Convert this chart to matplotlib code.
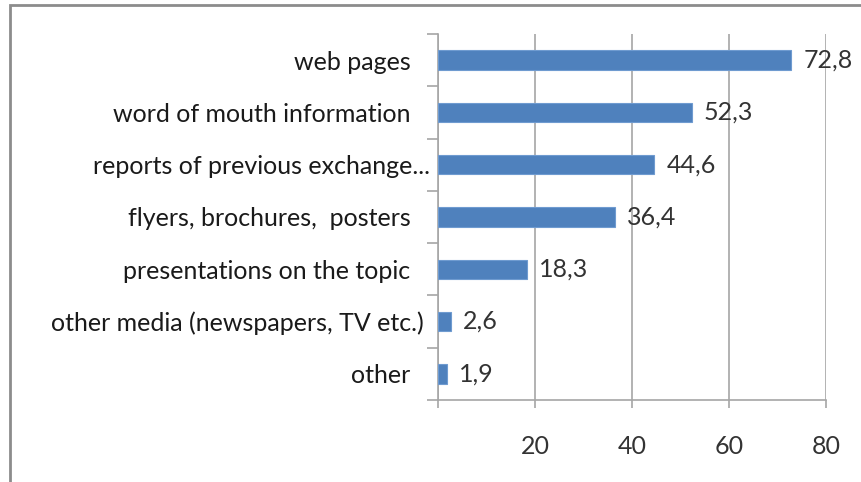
import numpy as np
import matplotlib.pyplot as plt
from matplotlib.patches import Rectangle
from matplotlib.ticker import FuncFormatter

# categories (top to bottom) and percentages
labels = ["web pages   ", "word of mouth information   ", "reports of previous exchange...",
          "flyers, brochures,  posters   ", "presentations on the topic   ",
          "other media (newspapers, TV etc.) ", "other   "]
values = [72.8, 52.3, 44.6, 36.4, 18.3, 2.6, 1.9]
xticks = [0, 20, 40, 60, 80]

plt.rcParams['font.family'] = ['Lato', 'DejaVu Sans']

fig = plt.figure(figsize=(8.62, 4.82), dpi=100)
ax = fig.add_axes([438/862, 1 - 400/482, (826 - 438)/862, (400 - 34)/482])

y = np.arange(len(labels))[::-1]
ax.barh(y, values, height=0.37, color='#4f81bd', edgecolor='#6f9bd0', linewidth=0.8, zorder=3)
for yi, v in zip(y, values):
    ax.text(v + 2.5, yi, "{:.1f}".format(v).replace('.', ','), va='center', ha='left',
            fontsize=18, color='#333333')

ax.set_xlim(0, 80)
ax.set_ylim(-0.5, len(labels) - 0.5)
ax.set_xticks(xticks)
ax.xaxis.set_major_formatter(FuncFormatter(lambda v, p: '' if v == 0 else '%d' % v))
ax.set_yticks(y)
ax.set_yticklabels(labels)
ax.set_yticks(np.arange(len(labels) + 1) - 0.5, minor=True)

ax.grid(axis='x', color='#a6a6a6', linewidth=1.2, zorder=0)
ax.tick_params(axis='x', length=6, width=1.2, color='#a6a6a6', pad=19, labelsize=18, labelcolor='#333333')
ax.tick_params(axis='y', which='major', length=0, pad=6, labelsize=18, labelcolor='#1a1a1a')
ax.tick_params(axis='y', which='minor', length=8, width=1.2, color='#a6a6a6')

for s in ['top', 'right']:
    ax.spines[s].set_visible(False)
for s in ['left', 'bottom']:
    ax.spines[s].set_color('#a6a6a6')
    ax.spines[s].set_linewidth(1.2)

# outer chart border (cut off at right and bottom)
fig.patches.append(Rectangle((10/862, -0.1), 1.2, 1.1 - 5/482, transform=fig.transFigure,
                             fill=False, edgecolor='#8c8c8c', linewidth=2.0))

fig.savefig('out.png', dpi=100)
